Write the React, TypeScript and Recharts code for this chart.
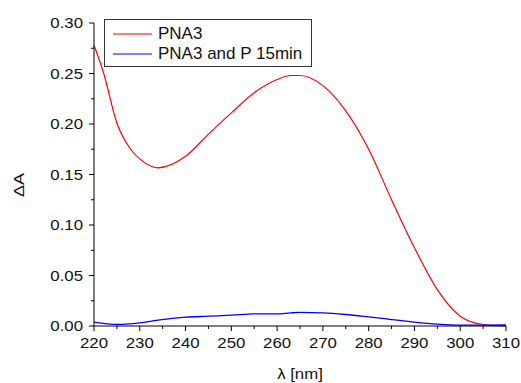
import React from "react";
import { LineChart, Line, XAxis, YAxis, Legend } from "recharts";

const wavelengths = [220, 222, 225, 228, 230, 234, 240, 245, 250, 255, 260, 263, 265, 270, 275, 280, 285, 290, 295, 300, 305, 310];
const pna3 = [0.278, 0.252, 0.201, 0.175, 0.1655, 0.1566, 0.168, 0.19, 0.211, 0.231, 0.244, 0.248, 0.248, 0.238, 0.213, 0.175, 0.125, 0.0775, 0.036, 0.0097, 0.0015, 0];
const pna3P15 = [0.0038, 0.0025, 0.0015, 0.0022, 0.003, 0.0058, 0.0087, 0.0097, 0.0107, 0.012, 0.012, 0.013, 0.0134, 0.013, 0.0114, 0.009, 0.0064, 0.0038, 0.0018, 0.0008, 0.0008, 0.001];

const xTicks = [220, 225, 230, 235, 240, 245, 250, 255, 260, 265, 270, 275, 280, 285, 290, 295, 300, 305, 310];
const yTicks = [0, 0.025, 0.05, 0.075, 0.1, 0.125, 0.15, 0.175, 0.2, 0.225, 0.25, 0.275, 0.3];

const seriesNames = ["PNA3", "PNA3 and P 15min"];

const data = wavelengths.map((w, i) => ({ w, a: pna3[i], b: pna3P15[i] }));

const FONT = "'Liberation Sans', Arial, sans-serif";

// labels in the original are a bit wide, so stretch them horizontally
function Wide({ x, y, anchor, rotate, size = 14, children }: any) {
  const tf = rotate
    ? `translate(${x},${y}) rotate(-90) scale(1.2,1)`
    : `translate(${x},${y}) scale(1.2,1)`;
  return (
    <text transform={tf} x={0} y={0} textAnchor={anchor} fontSize={size} fontFamily={FONT} fill="#111">
      {children}
    </text>
  );
}

function XTick({ x, y, payload }: any) {
  const major = payload.value % 10 === 0;
  return (
    <g>
      <line x1={x} y1={y} x2={x} y2={y + (major ? 5 : 3)} stroke="#000" />
      {major && (
        <Wide x={x} y={y + 22} anchor="middle">
          {payload.value}
        </Wide>
      )}
    </g>
  );
}

function YTick({ x, y, payload }: any) {
  const major = Math.round(payload.value * 1000) % 50 === 0;
  return (
    <g>
      <line x1={x} y1={y} x2={x - (major ? 5 : 3)} y2={y} stroke="#000" />
      {major && (
        <Wide x={x - 11} y={y + 5} anchor="end">
          {payload.value.toFixed(2)}
        </Wide>
      )}
    </g>
  );
}

function LegendBox({ payload }: any) {
  return (
    <div
      style={{
        boxSizing: "border-box",
        width: 208,
        border: "1px solid #333",
        background: "#fff",
        padding: "4px 7px 2px 8px",
        fontFamily: FONT,
        fontSize: 17,
        lineHeight: "20px",
        color: "#111",
      }}
    >
      {(payload || []).map((p: any) => (
        <div key={p.value} style={{ display: "flex", alignItems: "center", whiteSpace: "nowrap" }}>
          <svg width={39} height={4} style={{ marginRight: 6 }}>
            <line x1={0} y1={2} x2={39} y2={2} stroke={p.color} strokeWidth={1.2} />
          </svg>
          <span>{p.value}</span>
        </div>
      ))}
    </div>
  );
}

export default function App() {
  return (
    <div style={{ position: "absolute", left: 0, top: 0, background: "#fff" }}>
      <LineChart width={521} height={383} data={data} margin={{ top: 23, right: 15, left: 0, bottom: 0 }}>
        <XAxis
          dataKey="w"
          type="number"
          domain={[220, 310]}
          ticks={xTicks}
          interval={0}
          tick={<XTick />}
          tickSize={0}
          tickMargin={0}
          height={57}
          axisLine={{ stroke: "#000" }}
          label={{
            content: () => (
              <Wide x={300} y={379} anchor="middle">
                λ [nm]
              </Wide>
            ),
          }}
        />
        <YAxis
          type="number"
          domain={[0, 0.3]}
          ticks={yTicks}
          interval={0}
          tick={<YTick />}
          tickSize={0}
          tickMargin={0}
          width={94}
          axisLine={{ stroke: "#000" }}
          label={{
            content: () => (
              <Wide x={24} y={185} anchor="middle" rotate size={15}>
                ΔA
              </Wide>
            ),
          }}
        />
        <Legend
          layout="vertical"
          align="center"
          verticalAlign="middle"
          content={<LegendBox />}
          wrapperStyle={{ left: 104, top: 19, width: "auto", height: "auto" }}
        />
        <Line dataKey="a" name={seriesNames[0]} type="monotone" stroke="#ff0000" strokeWidth={1.2} dot={false} isAnimationActive={false} />
        <Line dataKey="b" name={seriesNames[1]} type="monotone" stroke="#0000ff" strokeWidth={1.3} dot={false} isAnimationActive={false} />
      </LineChart>
    </div>
  );
}
